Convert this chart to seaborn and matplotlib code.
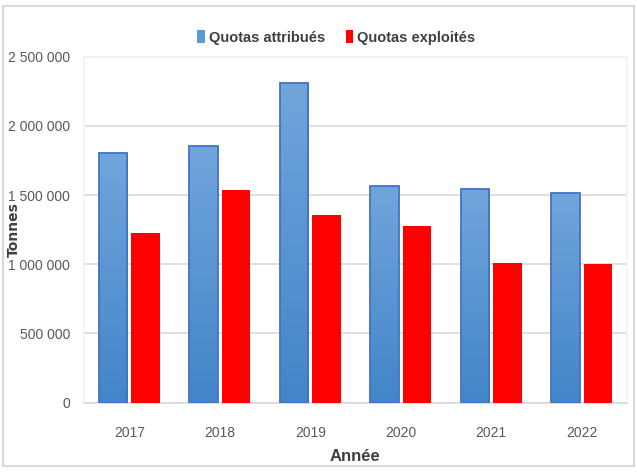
import numpy as np
import pandas as pd
import matplotlib.pyplot as plt
import seaborn as sns
from matplotlib.ticker import FuncFormatter
from matplotlib.patches import Rectangle
from matplotlib.colors import LinearSegmentedColormap

# --- data ---
years = ['2017', '2018', '2019', '2020', '2021', '2022']
quotas_attribues = [1805000, 1857000, 2310000, 1568000, 1546000, 1517000]
quotas_exploites = [1228000, 1538000, 1358000, 1279000, 1012000, 1004000]
series_names = ['Quotas attribués', 'Quotas exploités']

df = pd.DataFrame({
    'Année': years * 2,
    'Tonnes': quotas_attribues + quotas_exploites,
    'Série': [series_names[0]] * len(years) + [series_names[1]] * len(years),
})

sns.set_theme(style='white')
plt.rcParams['font.family'] = ['Liberation Sans', 'DejaVu Sans']

fig = plt.figure(figsize=(6.37, 4.72), dpi=100)
ax = fig.add_axes([0.132, 0.147, 0.852, 0.733])

sns.barplot(data=df, x='Année', y='Tonnes', hue='Série',
            palette=['#5B9BD5', '#FF0000'], saturation=1, width=0.72, gap=0.12,
            edgecolor='none', ax=ax, zorder=3)

# blue bars: darker outline + vertical gradient
grad = np.linspace(0, 1, 256).reshape(-1, 1)
cmap = LinearSegmentedColormap.from_list('b', ['#4285C8', '#71A5DC'])
for bar in ax.containers[0]:
    x0, y0 = bar.get_x(), bar.get_y()
    w, h = bar.get_width(), bar.get_height()
    im = ax.imshow(grad, cmap=cmap, origin='lower', aspect='auto',
                   extent=[x0, x0 + w, y0, y0 + h], zorder=3.5)
    im.set_clip_path(bar)
    ax.add_patch(Rectangle((x0, y0), w, h, fill=False, edgecolor='#4472C4',
                           linewidth=1.3, zorder=4))

ax.set_xlim(-0.5, 5.5)
ax.set_ylim(0, 2500000)
ax.set_yticks(np.arange(0, 2500001, 500000))
ax.yaxis.set_major_formatter(FuncFormatter(lambda v, p: f'{int(v):,}'.replace(',', ' ')))
ax.grid(axis='y', color='#D9D9D9', linewidth=1.2, zorder=0)
for s in ax.spines.values():
    s.set_color('#EEF3FA')
    s.set_linewidth(1.2)
ax.spines['bottom'].set_color('#D9D9D9')

ax.tick_params(axis='both', length=0, labelsize=10, colors='#595959')
ax.tick_params(axis='x', pad=17)
ax.tick_params(axis='y', pad=10)
ax.set_xlabel('Année', fontsize=12, fontweight='bold', color='#404040', labelpad=6)
ax.set_ylabel('Tonnes', fontsize=10, fontweight='bold', color='#404040',
              family='DejaVu Sans')
ax.yaxis.set_label_coords(-0.117, 0.5)

leg = ax.legend(loc='center', bbox_to_anchor=(0.465, 1.055), ncol=2, frameon=False,
                handlelength=0.5, handleheight=1.0, handletextpad=0.3, columnspacing=1.4,
                prop={'weight': 'bold', 'size': 10.5})
for t in leg.get_texts():
    t.set_color('#404040')

# outer chart frame
fig.patches.append(Rectangle((0.004, 0.012), 0.992, 0.975, transform=fig.transFigure,
                             fill=False, edgecolor='#D9D9D9', linewidth=1.5))

fig.savefig('out.png', dpi=100)
